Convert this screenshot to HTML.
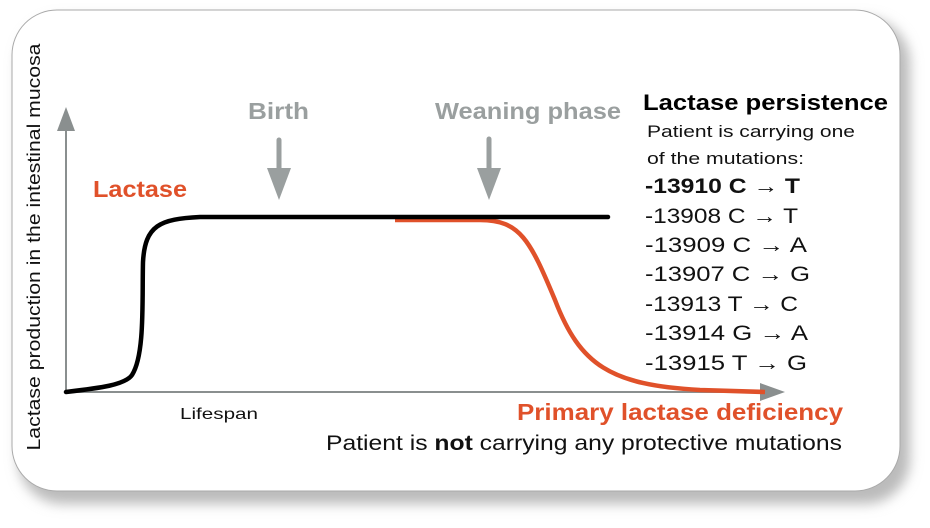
<!DOCTYPE html>
<html><head><style>
body{margin:0;width:930px;height:523px;background:#fff;overflow:hidden}
svg text{font-family:"Liberation Sans",sans-serif}
</style></head><body>
<svg width="930" height="523" viewBox="0 0 930 523">
<defs><filter id="sh" x="-5%" y="-5%" width="115%" height="120%"><feGaussianBlur stdDeviation="6"/></filter></defs>
<rect x="18" y="18" width="892" height="486" rx="45" fill="#bbb" filter="url(#sh)"/>
<rect x="12" y="10" width="888" height="481" rx="45" fill="#fff" stroke="#aaa" stroke-width="1"/>
<line x1="66" y1="392" x2="66" y2="128" stroke="#8a8f8f" stroke-width="2"/>
<polygon points="66,107 57,131 75,131" fill="#8a8f8f"/>
<line x1="66" y1="392" x2="762" y2="392" stroke="#8a8f8f" stroke-width="2"/>
<polygon points="785,392 760,383 760,401" fill="#8a8f8f"/>
<line x1="279" y1="140" x2="279" y2="175" stroke="#9a9f9f" stroke-width="5" stroke-linecap="round"/>
<polygon points="267,168 291,168 279,200" fill="#9a9f9f"/>
<line x1="489" y1="139" x2="489" y2="175" stroke="#9a9f9f" stroke-width="5" stroke-linecap="round"/>
<polygon points="477,168 501,168 489,200" fill="#9a9f9f"/>
<path d="M395,220 L480,220 C520,220 530,240 555,300 C580,365 610,385 700,390 L765,392" fill="none" stroke="#e0512a" stroke-width="4.5"/>
<path d="M66,392 C100,388 125,385 132,375 C145,355 142,300 143,262 C145,225 160,219 200,217 L608,217" fill="none" stroke="#000" stroke-width="4.5" stroke-linecap="round"/>
<g lengthAdjust="spacingAndGlyphs">
<text x="40" y="247" transform="rotate(-90 40 247)" text-anchor="middle" font-size="18" fill="#111" textLength="407" lengthAdjust="spacingAndGlyphs">Lactase production in the intestinal mucosa</text>
<text x="248" y="119" font-size="23" font-weight="bold" fill="#9a9f9f" textLength="61" lengthAdjust="spacingAndGlyphs">Birth</text>
<text x="435" y="119" font-size="23" font-weight="bold" fill="#9a9f9f" textLength="186" lengthAdjust="spacingAndGlyphs">Weaning phase</text>
<text x="93" y="197" font-size="23" font-weight="bold" fill="#e0512a" textLength="94" lengthAdjust="spacingAndGlyphs">Lactase</text>
<text x="643" y="110" font-size="22" font-weight="bold" fill="#000" textLength="245" lengthAdjust="spacingAndGlyphs">Lactase persistence</text>
<text x="647" y="137" font-size="17" fill="#111" textLength="208" lengthAdjust="spacingAndGlyphs">Patient is carrying one</text>
<text x="647" y="164" font-size="17" fill="#111" textLength="157" lengthAdjust="spacingAndGlyphs">of the mutations:</text>
<g font-size="21" fill="#111">
<text x="645" y="193" font-weight="bold" textLength="155" lengthAdjust="spacingAndGlyphs">-13910 C → T</text>
<text x="645" y="223" textLength="153" lengthAdjust="spacingAndGlyphs">-13908 C → T</text>
<text x="645" y="252" textLength="162" lengthAdjust="spacingAndGlyphs">-13909 C → A</text>
<text x="645" y="281" textLength="165" lengthAdjust="spacingAndGlyphs">-13907 C → G</text>
<text x="645" y="311" textLength="153" lengthAdjust="spacingAndGlyphs">-13913 T → C</text>
<text x="645" y="340" textLength="163" lengthAdjust="spacingAndGlyphs">-13914 G → A</text>
<text x="645" y="370" textLength="162" lengthAdjust="spacingAndGlyphs">-13915 T  → G</text>
</g>
<text x="180" y="419" font-size="16" fill="#111" textLength="78" lengthAdjust="spacingAndGlyphs">Lifespan</text>
<text x="517" y="420" font-size="23" font-weight="bold" fill="#e0512a" textLength="326" lengthAdjust="spacingAndGlyphs">Primary lactase deficiency</text>
<text x="326" y="450" font-size="21" fill="#111" textLength="516" lengthAdjust="spacingAndGlyphs">Patient is <tspan font-weight="bold">not</tspan> carrying any protective mutations</text>
</g>
</svg>
</body></html>
